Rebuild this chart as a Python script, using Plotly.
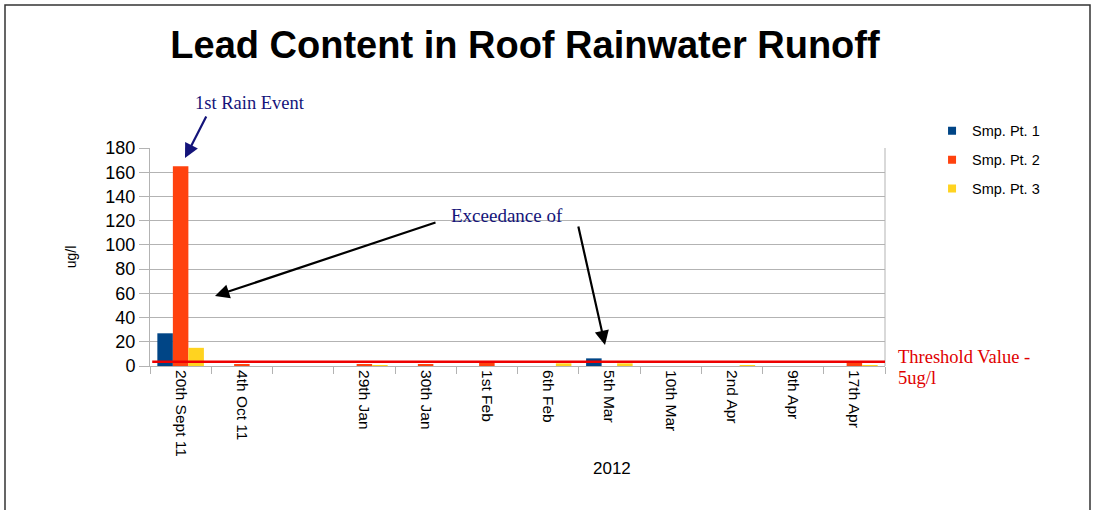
import plotly.graph_objects as go

categories = ["20th Sept 11", "4th Oct 11", " ", "29th Jan", "30th Jan", "1st Feb",
              "6th Feb", "5th Mar", "10th Mar", "2nd Apr", "9th Apr", "17th Apr"]
smp1 = [27, None, None, None, None, None, None, 6.3, None, None, None, None]
smp2 = [165, 1.2, None, 1.6, 1.6, 3.0, None, None, None, None, None, 3.0]
smp3 = [15, None, None, 0.8, None, None, 2.2, 2.2, None, 0.8, None, 0.8]
series_names = ["Smp. Pt. 1", "Smp. Pt. 2", "Smp. Pt. 3"]
series_colors = ["#004586", "#ff420e", "#ffd320"]
threshold = 3.5
y_ticks = [0, 20, 40, 60, 80, 100, 120, 140, 160, 180]

fig = go.Figure()
for i, (name, vals, col) in enumerate(zip(series_names, [smp1, smp2, smp3], series_colors)):
    fig.add_trace(go.Bar(x=categories, y=vals, name=name, marker_color=col,
                         marker_line_width=0, showlegend=False))
# legend entries with small square keys
for i, (name, col) in enumerate(zip(series_names, series_colors)):
    fig.add_trace(go.Scatter(x=[None], y=[None], mode="markers", name=name,
                             marker=dict(symbol="square", size=8, color=col),
                             legendgroup=f"g{i}", hoverinfo="skip"))

serif = "Liberation Serif, Times New Roman, serif"
sans = "Liberation Sans, Arial, sans-serif"

fig.update_layout(
    width=1094, height=510,
    paper_bgcolor="white", plot_bgcolor="white",
    barmode="group", bargap=0.24, bargroupgap=0,
    margin=dict(l=150, r=209, t=148, b=144),
    font=dict(family=sans, color="#000000"),
    title=dict(text="<b>Lead Content in Roof Rainwater Runoff</b>",
               font=dict(family=sans, size=38, color="#000000"),
               x=525/1094, xanchor="center", y=1-45/510, yanchor="middle"),
    legend=dict(x=1.064, y=1.152, xanchor="left", yanchor="top",
                font=dict(family=sans, size=14.5), tracegroupgap=7,
                itemwidth=30, bgcolor="rgba(0,0,0,0)"),
    xaxis=dict(type="category", categoryorder="array", categoryarray=categories,
               tickangle=90, tickfont=dict(family=sans, size=15.5),
               showline=True, linecolor="#b3b3b3", linewidth=1,
               ticks="outside", ticklen=7, tickcolor="#b3b3b3",
               tickson="boundaries", showgrid=False, mirror=False),
    yaxis=dict(range=[0, 180], tickvals=y_ticks, tickfont=dict(family=sans, size=18),
               showgrid=True, gridcolor="#b3b3b3", gridwidth=1,
               showline=True, linecolor="#b3b3b3", linewidth=1,
               ticks="outside", ticklen=10, tickcolor="#b3b3b3",
               zeroline=False,
               title=dict(text="ug/l", font=dict(family=sans, size=14), standoff=25)),
)

# right border of plot area
fig.add_shape(type="line", xref="paper", yref="paper", x0=1, x1=1, y0=0, y1=1,
              line=dict(color="#b3b3b3", width=1))
# threshold line
fig.add_shape(type="line", xref="paper", yref="y", x0=0.003, x1=1, y0=threshold, y1=threshold,
              line=dict(color="#ee0000", width=2.5))
# outer frame
fig.add_shape(type="path", xref="paper", yref="paper",
              path=f"M {(5-150)/735} {(366-512)/218} L {(5-150)/735} {(366-5)/218} "
                   f"L {(1090-150)/735} {(366-5)/218} L {(1090-150)/735} {(366-512)/218}",
              line=dict(color="#333333", width=1.5))

fig.add_annotation(text="1st Rain Event", xref="paper", yref="paper",
                   x=(250-150)/735, y=(366-103)/218, showarrow=False,
                   xanchor="center", yanchor="middle",
                   font=dict(family=serif, size=18.5, color="#14147a"))
fig.add_annotation(text="", xref="paper", yref="paper",
                   x=(185-150)/735, y=(366-158)/218, ax=22, ay=-43,
                   showarrow=True, arrowhead=2, arrowsize=1.3, arrowwidth=2.2,
                   arrowcolor="#14147a")
fig.add_annotation(text="Exceedance of", xref="paper", yref="paper",
                   x=(507-150)/735, y=(366-215)/218, showarrow=False,
                   xanchor="center", yanchor="middle",
                   font=dict(family=serif, size=19, color="#14147a"))
fig.add_annotation(text="", xref="paper", yref="paper",
                   x=(215-150)/735, y=(366-296)/218, ax=222, ay=-74,
                   showarrow=True, arrowhead=2, arrowsize=1.3, arrowwidth=2.2,
                   arrowcolor="#000000")
fig.add_annotation(text="", xref="paper", yref="paper",
                   x=(605-150)/735, y=(366-345)/218, ax=-27, ay=-120,
                   showarrow=True, arrowhead=2, arrowsize=1.3, arrowwidth=2.2,
                   arrowcolor="#000000")
fig.add_annotation(text="Threshold Value -", xref="paper", yref="paper",
                   x=(896-150)/735, y=(366-357)/218, xanchor="left", yanchor="middle",
                   align="left", showarrow=False,
                   font=dict(family=serif, size=18.5, color="#e00000"))
fig.add_annotation(text="5ug/l", xref="paper", yref="paper",
                   x=(896-150)/735, y=(366-378)/218, xanchor="left", yanchor="middle",
                   align="left", showarrow=False,
                   font=dict(family=serif, size=18.5, color="#e00000"))
fig.add_annotation(text="2012", xref="paper", yref="paper",
                   x=(612-150)/735, y=(366-468)/218, showarrow=False,
                   xanchor="center", yanchor="middle",
                   font=dict(family=sans, size=17, color="#000000"))

fig.write_html("out.html", config={"displayModeBar": False},
               post_script="document.body.style.margin='0';document.body.style.padding='0';")
